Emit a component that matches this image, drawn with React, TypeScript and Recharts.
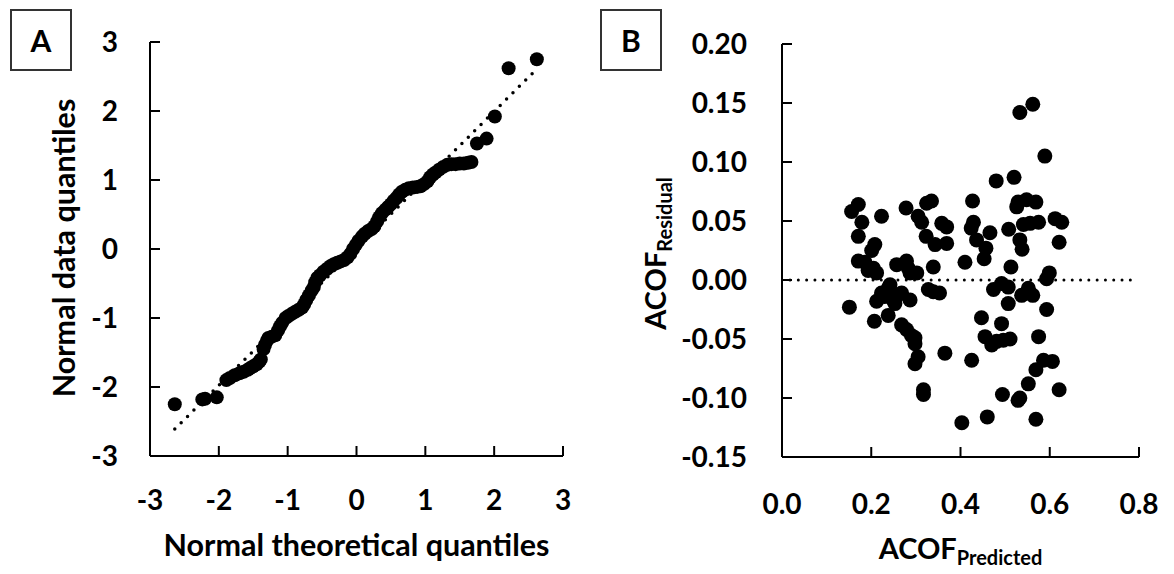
import { Label, ReferenceLine, Scatter, ScatterChart, XAxis, YAxis } from 'recharts';

// Panel A: normal Q-Q plot
const qqTheoretical = [
	-2.64, -2.24, -2.2, -2.03, -1.89, -1.84, -1.77, -1.7, -1.64, -1.58, -1.55, -1.5, -1.45, -1.41, -1.39,
	-1.35, -1.33, -1.3, -1.28, -1.23, -1.18, -1.14, -1.11, -1.08, -1.03, -0.99, -0.94, -0.89, -0.84, -0.79,
	-0.76, -0.73, -0.69, -0.65, -0.62, -0.6, -0.57, -0.53, -0.48, -0.43, -0.38, -0.33, -0.28, -0.23, -0.18,
	-0.13, -0.09, -0.05, -0.01, 0.03, 0.08, 0.12, 0.17, 0.22, 0.26, 0.3, 0.33, 0.37, 0.42, 0.46, 0.5, 0.54,
	0.58, 0.62, 0.66, 0.71, 0.76, 0.82, 0.88, 0.93, 0.98, 1.03, 1.07, 1.11, 1.15, 1.2, 1.26, 1.32, 1.38,
	1.44, 1.5, 1.56, 1.62, 1.67, 1.75, 1.89, 2.01, 2.21, 2.62,
];
const qqSample = [
	-2.25, -2.18, -2.17, -2.15, -1.9, -1.87, -1.83, -1.8, -1.78, -1.75, -1.73, -1.7, -1.67, -1.63, -1.6,
	-1.45, -1.39, -1.33, -1.29, -1.27, -1.25, -1.18, -1.12, -1.07, -1.0, -0.97, -0.94, -0.91, -0.88, -0.85,
	-0.8, -0.74, -0.67, -0.6, -0.55, -0.48, -0.42, -0.38, -0.33, -0.29, -0.25, -0.22, -0.2, -0.18, -0.16,
	-0.12, -0.07, 0.0, 0.06, 0.12, 0.18, 0.22, 0.26, 0.29, 0.33, 0.4, 0.46, 0.52, 0.57, 0.61, 0.65, 0.7,
	0.74, 0.79, 0.83, 0.86, 0.88, 0.89, 0.9, 0.91, 0.94, 0.98, 1.04, 1.08, 1.11, 1.15, 1.19, 1.22, 1.23,
	1.23, 1.24, 1.24, 1.25, 1.26, 1.53, 1.6, 1.92, 2.62, 2.75,
];
const qqTicks = [-3, -2, -1, 0, 1, 2, 3];

// Panel B: residuals vs predicted
const acofPredicted = [
	0.151, 0.156, 0.171, 0.179, 0.171, 0.171, 0.186, 0.193, 0.201, 0.208, 0.205, 0.212, 0.223, 0.207, 0.212,
	0.223, 0.23, 0.238, 0.242, 0.238, 0.249, 0.257, 0.253, 0.268, 0.257, 0.279, 0.283, 0.287, 0.302, 0.278,
	0.287, 0.268, 0.279, 0.29, 0.298, 0.298, 0.305, 0.298, 0.317, 0.317, 0.305, 0.313, 0.323, 0.324, 0.335,
	0.343, 0.339, 0.328, 0.339, 0.353, 0.358, 0.369, 0.369, 0.365, 0.41, 0.403, 0.427, 0.429, 0.424, 0.436,
	0.457, 0.453, 0.466, 0.447, 0.425, 0.455, 0.47, 0.481, 0.46, 0.48, 0.492, 0.496, 0.511, 0.474, 0.492,
	0.507, 0.507, 0.494, 0.513, 0.508, 0.52, 0.526, 0.529, 0.533, 0.538, 0.533, 0.562, 0.548, 0.569, 0.541,
	0.556, 0.575, 0.537, 0.552, 0.562, 0.529, 0.533, 0.552, 0.569, 0.569, 0.575, 0.586, 0.606, 0.589, 0.593,
	0.593, 0.599, 0.612, 0.627, 0.621, 0.621,
];
const acofResidual = [
	-0.023, 0.058, 0.064, 0.049, 0.037, 0.016, 0.015, 0.008, 0.025, 0.03, 0.01, 0.006, 0.054, -0.035, -0.018,
	-0.011, -0.014, -0.007, -0.004, -0.03, -0.017, -0.014, -0.02, -0.011, 0.013, 0.016, 0.01, 0.006, 0.006,
	0.061, -0.017, -0.038, -0.042, -0.047, -0.049, -0.054, -0.065, -0.071, -0.093, -0.097, 0.054, 0.049, 0.037,
	0.065, 0.067, 0.03, 0.011, -0.008, -0.01, -0.011, 0.048, 0.045, 0.031, -0.062, 0.015, -0.121, 0.067, 0.049,
	0.044, 0.034, 0.027, 0.018, 0.04, -0.032, -0.068, -0.048, -0.055, -0.052, -0.116, 0.084, -0.037, -0.051,
	-0.05, -0.008, -0.003, -0.006, -0.02, -0.097, 0.011, 0.043, 0.087, 0.062, 0.066, 0.034, 0.026, 0.142,
	0.149, 0.068, 0.066, 0.047, 0.048, 0.049, -0.013, -0.007, -0.013, -0.102, -0.1, -0.088, -0.076, -0.118,
	-0.048, -0.068, -0.069, 0.105, -0.025, 0.001, 0.006, 0.052, 0.049, 0.032, -0.093,
];
const predictedTicks = [0, 0.2, 0.4, 0.6, 0.8];
const residualTicks = [-0.15, -0.1, -0.05, 0, 0.05, 0.1, 0.15, 0.2];

const qqData = qqTheoretical.map((x, i) => ({ x, y: qqSample[i] }));
const residData = acofPredicted.map((x, i) => ({ x, y: acofResidual[i] }));

const FONT = 'Lato, "Open Sans", sans-serif';
const tickStyle = { fill: '#000', fontSize: 28, fontWeight: 700, fontFamily: FONT };
const titleStyle = { ...tickStyle, fontSize: 30.5 };
const acofStyle = { ...tickStyle, fontSize: 29 };
const axisLine = { stroke: '#000', strokeWidth: 2 };

const Dot = (r: number) => (props: any) => <circle cx={props.cx} cy={props.cy} r={r} fill="#000" />;

function PanelTag({ letter, left }: { letter: string; left: number }) {
	return (
		<div
			style={{
				position: 'absolute',
				left,
				top: 9,
				width: 58,
				height: 58,
				border: '2px solid #333',
				display: 'flex',
				alignItems: 'center',
				justifyContent: 'center',
				fontFamily: FONT,
				fontWeight: 700,
				fontSize: 30,
			}}
		>
			{letter}
		</div>
	);
}

export default function App() {
	return (
		<div style={{ position: 'absolute', left: 0, top: 0, width: 1174, height: 574, background: '#fff' }}>
			<div style={{ position: 'absolute', left: 0, top: 0 }}>
				<ScatterChart width={600} height={574} margin={{ top: 42, right: 37, bottom: 0, left: 0 }}>
					<XAxis
						type="number"
						dataKey="x"
						domain={[-3, 3]}
						ticks={qqTicks}
						height={118}
						tickSize={-10}
						tickMargin={44}
						axisLine={axisLine}
						tickLine={axisLine}
						tick={tickStyle}
						allowDataOverflow
					>
						<Label
							content={(p: any) => (
								<text
									x={p.viewBox.x + p.viewBox.width / 2}
									y={p.viewBox.y + 100}
									textAnchor="middle"
									style={titleStyle}
								>
									Normal theoretical quantiles
								</text>
							)}
						/>
					</XAxis>
					<YAxis
						type="number"
						dataKey="y"
						domain={[-3, 3]}
						ticks={qqTicks}
						width={150}
						tickSize={-10}
						tickMargin={42}
						axisLine={axisLine}
						tickLine={axisLine}
						tick={tickStyle}
						allowDataOverflow
					>
						<Label
							content={(p: any) => {
								const cx = 75;
								const cy = p.viewBox.y + p.viewBox.height / 2 - 1;
								return (
									<text
										x={cx}
										y={cy}
										transform={`rotate(-90, ${cx}, ${cy})`}
										textAnchor="middle"
										style={titleStyle}
									>
										Normal data quantiles
									</text>
								);
							}}
						/>
					</YAxis>
					<ReferenceLine
						segment={[
							{ x: -2.64, y: -2.61 },
							{ x: 2.56, y: 2.55 },
						]}
						stroke="#000"
						strokeWidth={3.5}
						strokeDasharray="0 9"
						strokeLinecap="round"
					/>
					<Scatter data={qqData} shape={Dot(7)} isAnimationActive={false} />
				</ScatterChart>
			</div>
			<div style={{ position: 'absolute', left: 590, top: 0 }}>
				<ScatterChart width={584} height={574} margin={{ top: 44, right: 35, bottom: 0, left: 0 }}>
					<XAxis
						type="number"
						dataKey="x"
						domain={[0, 0.8]}
						ticks={predictedTicks}
						tickFormatter={(v: number) => v.toFixed(1)}
						height={117}
						tickSize={-10}
						tickMargin={47}
						axisLine={axisLine}
						tickLine={axisLine}
						tick={tickStyle}
						allowDataOverflow
					>
						<Label
							content={(p: any) => (
								<text
									x={p.viewBox.x + p.viewBox.width / 2}
									y={p.viewBox.y + 102}
									textAnchor="middle"
									style={acofStyle}
								>
									ACOF
									<tspan fontSize={20} dy={6}>
										Predicted
									</tspan>
								</text>
							)}
						/>
					</XAxis>
					<YAxis
						type="number"
						dataKey="y"
						domain={[-0.15, 0.2]}
						ticks={residualTicks}
						tickFormatter={(v: number) => v.toFixed(2)}
						width={192}
						tickSize={-10}
						tickMargin={45}
						axisLine={axisLine}
						tickLine={axisLine}
						tick={tickStyle}
						allowDataOverflow
					>
						<Label
							content={(p: any) => {
								const cx = 76;
								const cy = p.viewBox.y + p.viewBox.height / 2 + 3;
								return (
									<text
										x={cx}
										y={cy}
										transform={`rotate(-90, ${cx}, ${cy})`}
										textAnchor="middle"
										style={acofStyle}
									>
										ACOF
										<tspan fontSize={20} dy={6}>
											Residual
										</tspan>
									</text>
								);
							}}
						/>
					</YAxis>
					<ReferenceLine
						segment={[
							{ x: 0.018, y: 0 },
							{ x: 0.787, y: 0 },
						]}
						stroke="#000"
						strokeWidth={3}
						strokeDasharray="0 8.3"
						strokeLinecap="round"
					/>
					<Scatter data={residData} shape={Dot(7.5)} isAnimationActive={false} />
				</ScatterChart>
			</div>
			<PanelTag letter="A" left={10} />
			<PanelTag letter="B" left={600} />
		</div>
	);
}
